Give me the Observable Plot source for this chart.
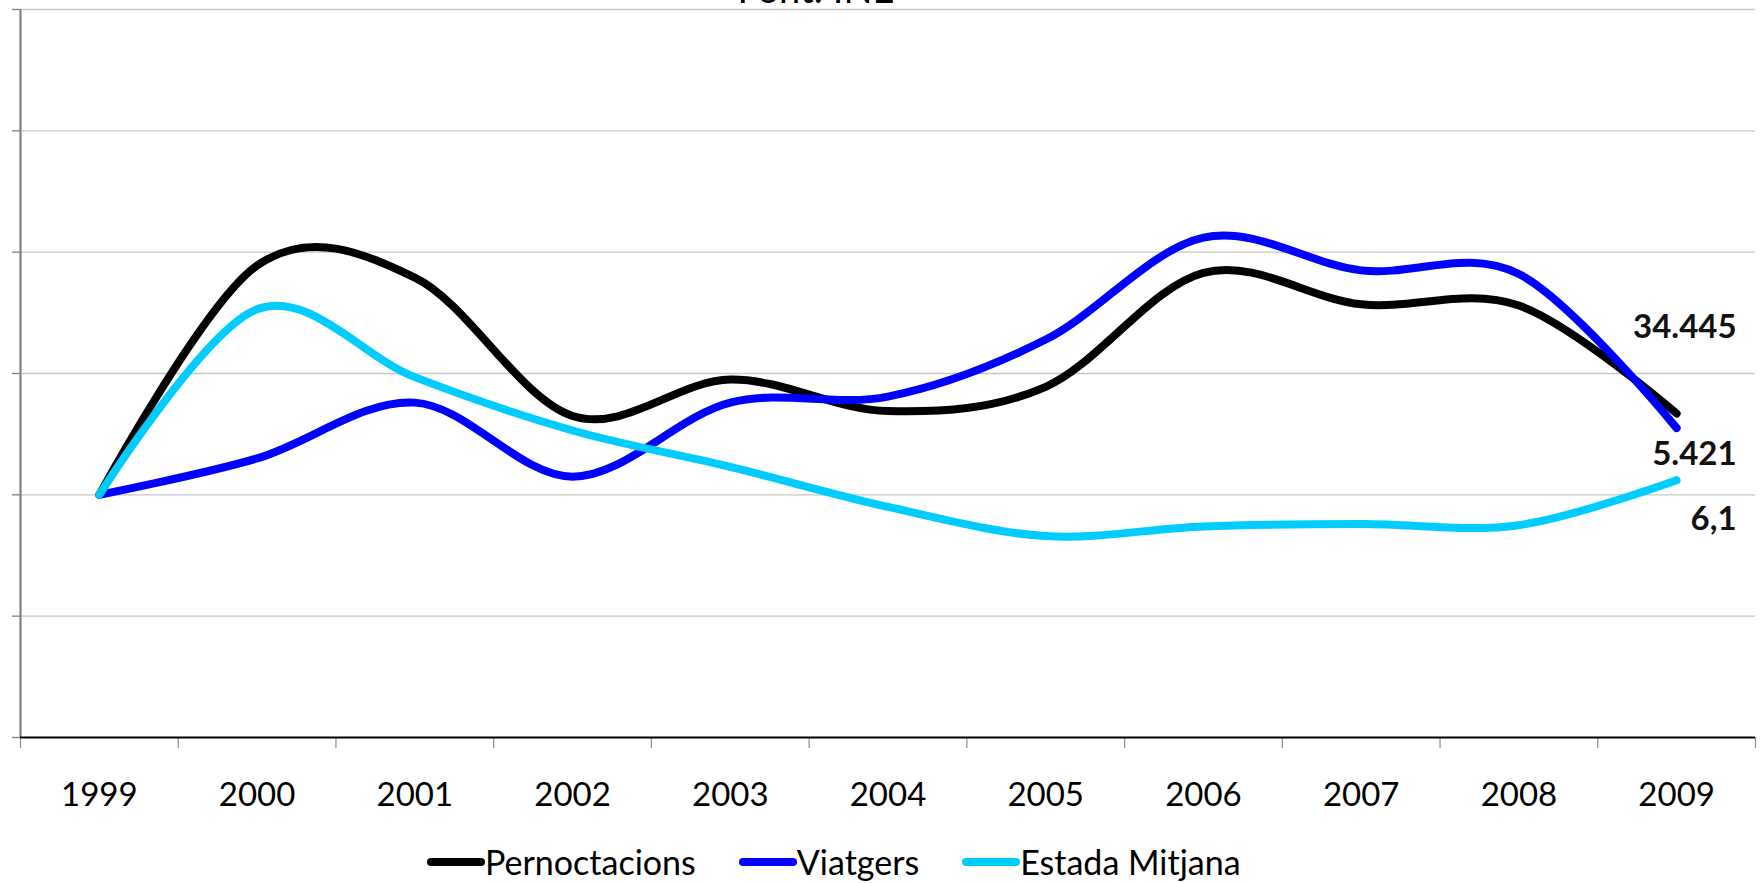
<!DOCTYPE html>
<html>
<head>
<meta charset="utf-8">
<script src="https://cdn.jsdelivr.net/npm/d3@7"></script>
<script src="https://cdn.jsdelivr.net/npm/@observablehq/plot@0.6"></script>
<style>
  html, body { margin: 0; padding: 0; background: #ffffff; }
  #wrap { position: relative; width: 1760px; height: 883px; overflow: hidden; font-family: Lato, "Open Sans", sans-serif; }
  #chart svg { display: block; }
  #legend { position: absolute; left: 427px; top: 842px; height: 40px; line-height: 40px; display: flex; align-items: center; font-size: 34px; color: #000; white-space: nowrap; }
  .sw { display: inline-block; width: 58px; height: 8px; border-radius: 4px; }
  .lt { margin-right: 43px; }
</style>
</head>
<body>
<div id="wrap">
  <div id="chart"></div>
  <div id="legend"></div>
</div>
<script>
// ---- data (index, 1999 = 100) ----
const years = [1999, 2000, 2001, 2002, 2003, 2004, 2005, 2006, 2007, 2008, 2009];
const pernoctacions = [100, 118.9, 117.9, 106.5, 109.5, 106.9, 108.9, 118.3, 115.7, 115.6, 106.7];
const viatgers      = [100, 103.0, 107.6, 101.5, 107.6, 108.1, 112.8, 121.2, 118.5, 118.2, 105.5];
const estadaMitjana = [100, 115.3, 109.7, 105.3, 102.3,  99.0,  96.6,  97.4,  97.6,  97.5, 101.2];
const seriesNames = ["Pernoctacions", "Viatgers", "Estada Mitjana"];
const seriesColors = ["#000000", "#0000FF", "#00CCFF"];
const endLabels = ["34.445", "5.421", "6,1"];
const yTicks = [80, 90, 100, 110, 120, 130, 140];
const sourceText = "Font: INE";

const seriesValues = [pernoctacions, viatgers, estadaMitjana];
const tables = seriesValues.map(vals => years.map((y, i) => ({ year: y, value: vals[i] })));
const bounds = [years[0] - 0.5, ...years.map(y => y + 0.5)];
const xDomain = [years[0] - 0.5, years[years.length - 1] + 0.5];
const labelOffsets = [-86, 26, 39];

const lineMarks = tables.map((t, k) => Plot.line(t, {
  x: "year", y: "value", stroke: seriesColors[k], strokeWidth: 8,
  curve: "cardinal", tension: 0, strokeLinecap: "round", strokeLinejoin: "round"
}));
const labelMarks = tables.map((t, k) => Plot.text([t[t.length - 1]], {
  x: "year", y: "value", text: () => endLabels[k], dx: 60, dy: labelOffsets[k],
  textAnchor: "end", fontSize: 33, fontWeight: "bold", fill: "#111"
}));

const chart = Plot.plot({
  width: 1760, height: 840,
  marginTop: 9, marginBottom: 103, marginLeft: 20, marginRight: 5,
  x: { type: "linear", domain: xDomain, label: null },
  y: { domain: [yTicks[0], yTicks[yTicks.length - 1]], label: null },
  style: { fontFamily: "Lato, 'Open Sans', sans-serif", background: "transparent", color: "#000", overflow: "hidden" },
  marks: [
    Plot.gridY(yTicks.slice(1), { stroke: "#c6c6c6", strokeOpacity: 1, strokeWidth: 1.4 }),
    Plot.axisY(yTicks, { anchor: "left", tickSize: 8, tickFormat: () => "", stroke: "#808080", strokeWidth: 1.3 }),
    Plot.ruleX([xDomain[0]], { y1: yTicks[0], y2: yTicks[yTicks.length - 1], stroke: "#808080", strokeWidth: 2.2 }),
    Plot.axisX(bounds, { tickSize: 11, tickFormat: () => "", stroke: "#8c8c8c", strokeWidth: 1.2 }),
    Plot.axisX(years, { tickSize: 0, tickPadding: 45, tickFormat: d => String(d), fontSize: 33 }),
    Plot.ruleY([yTicks[0]], { stroke: "#000", strokeWidth: 2 }),
    ...lineMarks,
    ...labelMarks,
    Plot.text([sourceText], { frameAnchor: "top", lineAnchor: "bottom", dx: -72, dy: -7, fontSize: 38, fill: "#000" })
  ]
});
document.getElementById("chart").appendChild(chart);

const legend = document.getElementById("legend");
seriesNames.forEach((name, k) => {
  const sw = document.createElement("span");
  sw.className = "sw";
  sw.style.background = seriesColors[k];
  const lt = document.createElement("span");
  lt.className = "lt";
  lt.textContent = name;
  legend.appendChild(sw);
  legend.appendChild(lt);
});
</script>
</body>
</html>
